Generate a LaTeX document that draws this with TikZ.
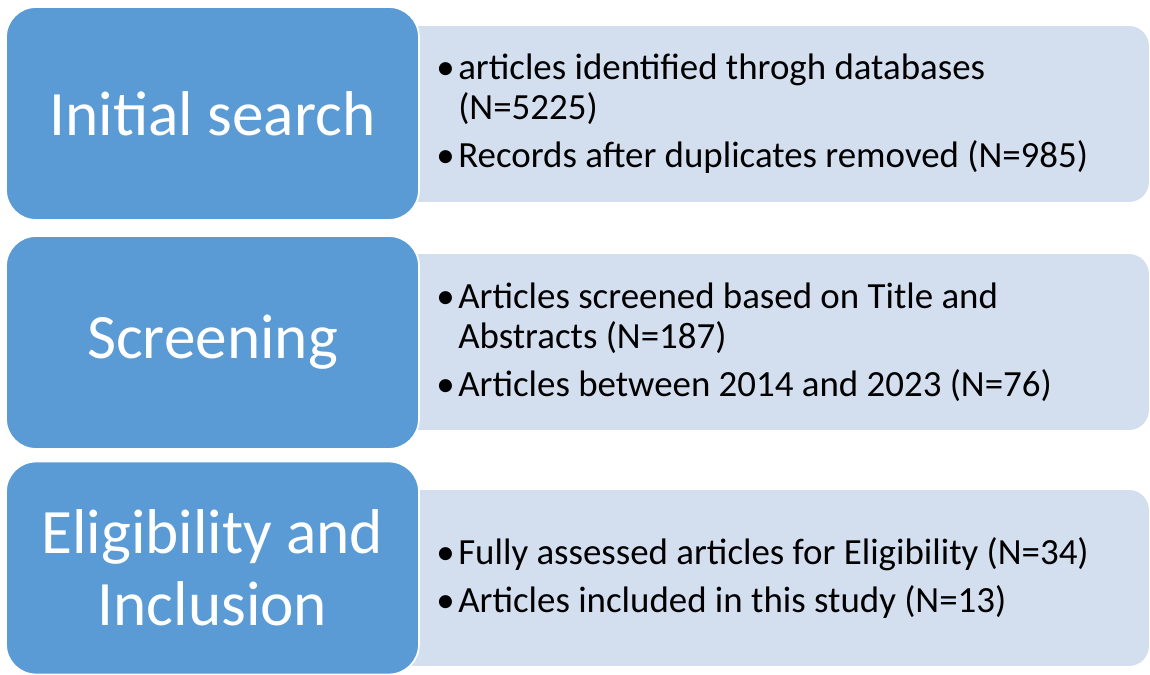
\documentclass[tikz,border=0pt]{standalone}
\usepackage{fontspec}
\setmainfont{Carlito}
\definecolor{phaseblue}{HTML}{5B9BD5}
\definecolor{detailblue}{HTML}{D3DEEF}
\newcommand{\itm}{\makebox[12.5pt][l]{\textbullet}}
\newcommand{\cont}{\hspace{12.5pt}}
\tikzset{
  phase/.style={fill=phaseblue, draw=white, line width=1pt, rounded corners=0.6cm,
    minimum width=8.26cm, minimum height=4.26cm, inner sep=0, align=center,
    text=white, font=\fontsize{36}{41}\selectfont},
  detail/.style={fill=detailblue, rounded corners=0.4cm,
    minimum width=15.4cm, minimum height=3.52cm, inner sep=0},
  items/.style={anchor=west, inner sep=0, align=left,
    font=\fontsize{21}{22.7}\selectfont}
}
\begin{document}
\begin{tikzpicture}[x=0.02cm,y=-0.02cm]
    \useasboundingbox (0,0) rectangle (1150,675);
    % light panels behind the steps
    \node[detail] (searchR) at (764,114) {};
    \node[detail] (screenR) at (764,342) {};
    \node[detail] (eligR) at (764,578) {};
    % the three steps
    \node[phase] (search) at (212.5,113.5) {Initial search};
    \node[phase] (screen) at (212.5,342.5) {Screening};
    \node[phase] (elig) at (212.5,568) {Eligibility and\\Inclusion};
    % counts per step
    \node[items] (searchT) at (436,114) {\itm articles identified throgh databases\\ \cont(N=5225)\\[4.5pt]
        \itm Records after duplicates removed (N=985)};
    \node[items] (screenT) at (436,342) {\itm Articles screened based on Title and\\ \cont Abstracts (N=187)\\[4.5pt]
        \itm Articles between 2014 and 2023 (N=76)};
    \node[items] (eligT) at (436,578) {\itm Fully assessed articles for Eligibility (N=34)\\[4.5pt]
        \itm Articles included in this study (N=13)};
\end{tikzpicture}
\end{document}
